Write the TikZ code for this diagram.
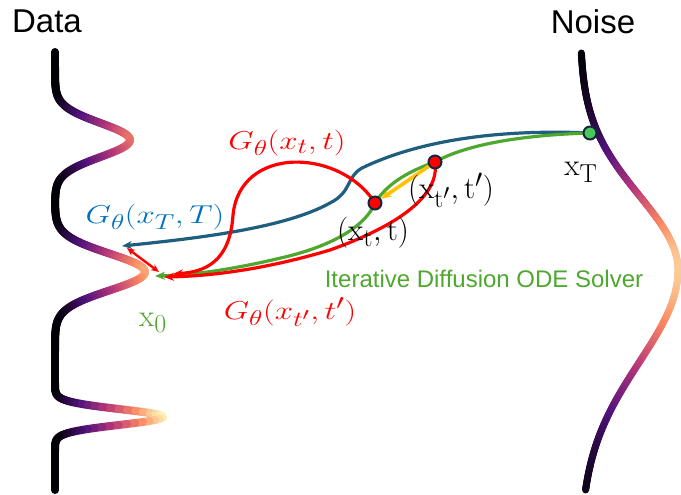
\documentclass[tikz,border=0pt]{standalone}
\usepackage{fontspec}
\usepackage{tikz}
\usetikzlibrary{arrows.meta}
\newfontfamily\arialfont{Liberation Sans}
\definecolor{mgA}{RGB}{0,0,4}
\definecolor{mgB}{RGB}{81,18,124}
\definecolor{mgC}{RGB}{183,55,121}
\definecolor{mgD}{RGB}{252,137,97}
\definecolor{mgE}{RGB}{252,253,191}
\definecolor{pathblue}{RGB}{32,94,126}
\definecolor{labelblue}{RGB}{0,112,192}
\definecolor{solvergreen}{RGB}{78,167,46}
\definecolor{dotgreen}{RGB}{70,200,90}
\definecolor{dotedge}{RGB}{20,40,60}
\definecolor{stepgold}{RGB}{255,192,0}
\newcommand\magmacol[1]{%
  \pgfmathsetmacro\magf{4*min(max(#1,0),0.999)}%
  \pgfmathtruncatemacro\magi{floor(\magf)}%
  \pgfmathtruncatemacro\magp{100*(\magf-\magi)}%
  \ifcase\magi\relax
    \colorlet{magc}{mgB!\magp!mgA}\or
    \colorlet{magc}{mgC!\magp!mgB}\or
    \colorlet{magc}{mgD!\magp!mgC}\or
    \colorlet{magc}{mgE!\magp!mgD}\fi}

\begin{document}
\begin{tikzpicture}[x=1pt,y=-1pt,
  declare function={gb(\gd,\gs)=exp(-min((\gd/\gs)*(\gd/\gs),20));
    datax(\gy)=55+75*gb(\gy-140,24)+90*gb(\gy-272,26)+108*gb(\gy-417,11);
    noisex(\gy)=580+98*gb(\gy-270,ifthenelse(\gy<270,105,130));},
  every node/.style={inner sep=0pt},
  curveline/.style={line width=3.2pt},
  arrowhd/.style={-{Stealth[length=10pt,width=8pt]}},
  dotnode/.style={circle,draw=dotedge,line width=2pt,minimum size=13pt},
  lbl/.style={font=\fontsize{24.88}{30}\selectfont,scale=1.25},
  glbl/.style={font=\fontsize{24.88}{30}\selectfont,xscale=1.32,yscale=1.04},
  headfont/.style={font=\arialfont\fontsize{33}{38}\selectfont}]
  \useasboundingbox (0,0) rectangle (681,495);
  % the two distributions
  \foreach \ya in {52,...,489}{
    \pgfmathsetmacro\yb{\ya+1}
    \pgfmathsetmacro\xa{datax(\ya)}
    \pgfmathsetmacro\xb{datax(\yb)}
    \magmacol{((\xa+\xb)/2-55)/110}
    \draw[magc,line width=8pt,line cap=round] (\xa,\ya) -- (\xb,\yb);
  }
  \foreach \ya in {53,...,489}{
    \pgfmathsetmacro\yb{\ya+1}
    \pgfmathsetmacro\xa{noisex(\ya)}
    \pgfmathsetmacro\xb{noisex(\yb)}
    \magmacol{((\xa+\xb)/2-580)/110}
    \draw[magc,line width=7pt,line cap=round] (\xa,\ya) -- (\xb,\yb);
  }
  \node[headfont] (datahead) at (47,21) {Data};
  \node[headfont] (noisehead) at (593,22) {Noise};
  \coordinate (pT) at (590,133);
  \coordinate (ptp) at (435,162);
  \coordinate (pt) at (375,203);
  \coordinate (bluetip) at (122,246);
  \coordinate (x0tip) at (155,276);
  \coordinate (redtipA) at (173,274);
  \coordinate (redtipB) at (164,277);
  \coordinate (gapA) at (127,248);
  \coordinate (gapB) at (159,272);
  % trajectories
  \draw[pathblue,curveline,arrowhd] (pT) .. controls (500,129) and (420,140) .. (362,168)
    .. controls (346,177) and (352,192) .. (330,203) .. controls (285,228) and (200,238) .. (bluetip);
  \draw[solvergreen,curveline,arrowhd] (pT) .. controls (520,135) and (465,145) .. (ptp)
    .. controls (412,170) and (388,182) .. (pt) .. controls (366,225) and (335,245) .. (285,257)
    .. controls (235,269) and (195,275) .. (x0tip);
  \draw[red,curveline,arrowhd] (pt) .. controls (340,148) and (240,145) .. (233,215)
    .. controls (230,262) and (205,272) .. (redtipA);
  \draw[red,curveline,arrowhd] (ptp) .. controls (440,195) and (400,225) .. (330,250)
    .. controls (270,268) and (215,276) .. (redtipB);
  \draw[red,line width=2.4pt,{Stealth[length=8pt,width=7pt]}-{Stealth[length=8pt,width=7pt]}] (gapA) -- (gapB);
  \node[dotnode,fill=dotgreen] (xT) at (pT) {};
  \node[dotnode,fill=red] (xtp) at (ptp) {};
  \node[dotnode,fill=red] (xt) at (pt) {};
  \draw[stepgold,line width=3.6pt,arrowhd] (xtp) -- (xt);
  % labels
  \node[lbl] (lblT) at (581,172) {$\mathrm{x}_{\mathrm{T}}$};
  \node[lbl] (lbltp) at (451,190) {$(\mathrm{x}_{\mathrm{t}'},\mathrm{t}')$};
  \node[lbl] (lblt) at (373,233) {$(\mathrm{x}_{\mathrm{t}},\mathrm{t})$};
  \node[lbl,solvergreen] (lbl0) at (153,323) {$\mathrm{x}_0$};
  \node[glbl,labelblue] (gT) at (155,217) {$G_\theta(x_T,T)$};
  \node[glbl,red] (gt) at (287,143) {$G_\theta(x_t,t)$};
  \node[glbl,red] (gtp) at (290,312) {$G_\theta(x_{t'},t')$};
  \node[font=\arialfont\fontsize{24}{28}\selectfont,solvergreen] (solver) at (484,279) {Iterative Diffusion ODE Solver};
\end{tikzpicture}
\end{document}
